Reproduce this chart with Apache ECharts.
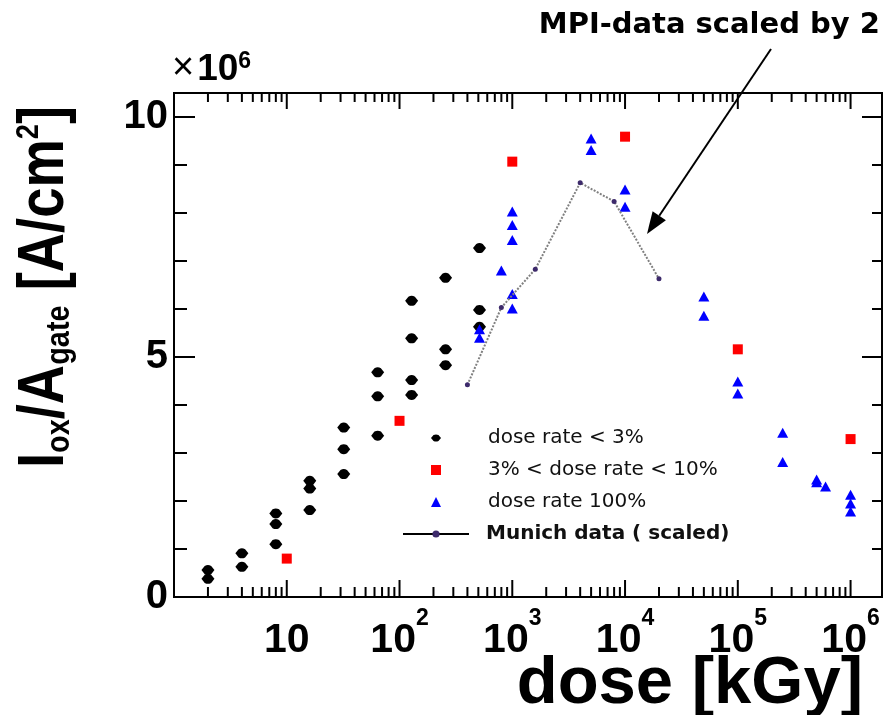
<!DOCTYPE html>
<html>
<head>
<meta charset="utf-8">
<script src="https://cdn.jsdelivr.net/npm/echarts@6/dist/echarts.min.js"></script>
<style>
  html, body { margin: 0; padding: 0; background: #fff; }
  #chart { width: 884px; height: 715px; }
</style>
</head>
<body>
<div id="chart"></div>
<script>
// Oxide current per gate area (in 1e-6 A/cm^2) versus accumulated dose (kGy)
const lowRateDose = [2, 2, 4, 4, 8, 8, 8, 16, 16, 16, 32, 32, 32, 64, 64, 64,
  128, 128, 128, 128, 256, 256, 256, 512, 512, 512];
const lowRateCurrent = [0.56, 0.38, 0.91, 0.63, 1.74, 1.52, 1.10, 2.42, 2.26, 1.81,
  3.53, 3.08, 2.56, 4.68, 4.18, 3.36, 6.17, 5.39, 4.52, 4.21, 6.65, 5.16, 4.83,
  7.27, 5.98, 5.63];

const midRateDose = [10, 100, 1000, 10000, 1e5, 1e6];
const midRateCurrent = [0.80, 3.67, 9.07, 9.59, 5.16, 3.29];

const fullRateDose = [512, 512, 800, 1000, 1000, 1000, 1000, 1000, 5000, 5000,
  10000, 10000, 50000, 50000, 1e5, 1e5, 2.5e5, 2.5e5, 5e5, 5e5, 6e5, 1e6, 1e6, 1e6];
const fullRateCurrent = [5.58, 5.40, 6.80, 8.03, 7.75, 7.44, 6.31, 6.01, 9.55, 9.31,
  8.49, 8.13, 6.26, 5.86, 4.49, 4.24, 3.42, 2.81, 2.45, 2.39, 2.30, 2.13, 1.95, 1.78];

const munichDose = [400, 800, 1600, 4000, 8000, 20000];
const munichCurrent = [4.42, 6.03, 6.83, 8.63, 8.24, 6.63];

const seriesNames = ['dose rate < 3%', '3% < dose rate < 10%', 'dose rate 100%', 'Munich data ( scaled)'];
const yTickLabels = [0, 5, 10];

const X_MIN = 1, X_MAX = 1.9e6, Y_MIN = 0, Y_MAX = 10.5;

const zip = (xs, ys) => xs.map((x, i) => [x, ys[i]]);

// frame ticks (log minor ticks on x, unit ticks on y), drawn on all four sides
const tickData = [];
for (let e = 0; e <= 6; e++) {
  for (let m = 1; m <= 9; m++) {
    const v = m * Math.pow(10, e);
    if (v <= X_MIN || v >= X_MAX) continue;
    tickData.push([v, Y_MIN, 0, m === 1 ? 1 : 0]);
  }
}
for (let v = 1; v <= 10; v++) tickData.push([X_MIN, v, 1, v % 5 === 0 ? 1 : 0]);

const FONT = '"Liberation Sans", Arial, sans-serif';
const LEGEND_FONT = '"DejaVu Sans", sans-serif';
const starPath = 'path://M0 5 L3 1.5 Q6 0 9 1.5 L12 5 L9 8.5 Q6 10 3 8.5 Z';

// annotation arrow
const arrowFrom = [771, 49], arrowTip = [647, 234];
const ax = arrowTip[0] - arrowFrom[0], ay = arrowTip[1] - arrowFrom[1];
const alen = Math.hypot(ax, ay), ux = ax / alen, uy = ay / alen;
const headLen = 22, headHalf = 8;
const baseC = [arrowTip[0] - headLen * ux, arrowTip[1] - headLen * uy];

const chart = echarts.init(document.getElementById('chart'), null, { renderer: 'canvas' });

const legendText = { fontFamily: LEGEND_FONT, fontSize: 20, color: '#111', lineHeight: 20 };

chart.setOption({
  animation: false,
  backgroundColor: '#fff',
  grid: {
    left: 174, right: 2, top: 93, bottom: 118,
    show: true, borderColor: '#000', borderWidth: 2,
    containLabel: false, outerBoundsMode: 'none'
  },
  xAxis: {
    type: 'log', logBase: 10, min: X_MIN, max: X_MAX,
    axisLine: { show: false }, axisTick: { show: false }, splitLine: { show: false },
    axisLabel: {
      margin: 10,
      showMinLabel: true, showMaxLabel: true, hideOverlap: false,
      formatter: function (v) {
        const l = Math.log10(v), e = Math.round(l);
        if (Math.abs(l - e) > 1e-6 || e < 1) return '';
        return e === 1 ? '{b|10}' : '{b|10}{s|' + e + '}';
      },
      rich: {
        b: { fontSize: 41, fontWeight: 'bold', fontFamily: FONT, color: '#000', lineHeight: 54, verticalAlign: 'bottom' },
        s: { fontSize: 23, fontWeight: 'bold', fontFamily: FONT, color: '#000', lineHeight: 22, verticalAlign: 'top' }
      }
    }
  },
  yAxis: {
    type: 'value', min: Y_MIN, max: Y_MAX, interval: 5,
    axisLine: { show: false }, axisTick: { show: false }, splitLine: { show: false },
    axisLabel: {
      margin: 6, hideOverlap: false,
      formatter: v => (yTickLabels.indexOf(v) >= 0 ? String(v) : ''),
      fontSize: 40, fontWeight: 'bold', fontFamily: FONT, color: '#000'
    }
  },
  legend: [
    {
      orient: 'vertical', left: 431, top: 428, padding: 0,
      itemWidth: 10, itemHeight: 10, itemGap: 12, selectedMode: false,
      textStyle: Object.assign({ padding: [0, 0, 0, 42] }, legendText),
      data: [
        { name: seriesNames[0], itemStyle: { opacity: 1 } },
        { name: seriesNames[1], itemStyle: { opacity: 1 } },
        { name: seriesNames[2], itemStyle: { opacity: 1 } }
      ]
    },
    {
      orient: 'vertical', left: 402, top: 524, padding: 0,
      itemWidth: 66, itemHeight: 9, selectedMode: false,
      textStyle: Object.assign({ padding: [0, 0, 0, 12], fontWeight: 'bold' }, legendText),
      data: [
        { name: seriesNames[3], lineStyle: { color: '#000', width: 2, type: 'solid', opacity: 1 } }
      ]
    }
  ],
  graphic: [
    {
      type: 'text', x: 45, y: 287, rotation: Math.PI / 2, scaleX: 0.85,
      style: {
        text: '{m|I}{s|ox}{m|/A}{s|gate}{m| [A/cm}{p|2}{m|]}',
        align: 'center', verticalAlign: 'middle', fill: '#000',
        rich: {
          m: { fontSize: 64, fontWeight: 'bold', fontFamily: FONT, fill: '#000', lineHeight: 64 },
          s: { fontSize: 34, fontWeight: 'bold', fontFamily: FONT, fill: '#000', lineHeight: 36, verticalAlign: 'bottom' },
          p: { fontSize: 32, fontWeight: 'bold', fontFamily: FONT, fill: '#000', lineHeight: 20, verticalAlign: 'top' }
        }
      }
    },
    {
      type: 'text', x: 863, y: 685,
      style: { text: 'dose [kGy]', font: 'bold 67px ' + FONT, fill: '#000', align: 'right', verticalAlign: 'middle' }
    },
    {
      type: 'text', x: 172, y: 69,
      style: {
        text: '{x|×}{b|10}{s|6}', align: 'left', verticalAlign: 'middle', fill: '#000',
        rich: {
          x: { fontSize: 38, fontFamily: FONT, fill: '#000', lineHeight: 38, verticalAlign: 'bottom', padding: [0, 3, 0, 0] },
          b: { fontSize: 37, fontWeight: 'bold', fontFamily: FONT, fill: '#000', lineHeight: 38, verticalAlign: 'bottom' },
          s: { fontSize: 23, fontWeight: 'bold', fontFamily: FONT, fill: '#000', lineHeight: 18, verticalAlign: 'top' }
        }
      }
    },
    {
      type: 'text', x: 880, y: 25,
      style: { text: 'MPI-data scaled by 2', font: 'bold 29px "DejaVu Sans", sans-serif', fill: '#000', align: 'right', verticalAlign: 'middle' }
    },
    {
      type: 'line',
      shape: { x1: arrowFrom[0], y1: arrowFrom[1], x2: baseC[0], y2: baseC[1] },
      style: { stroke: '#000', lineWidth: 2 }
    },
    {
      type: 'polygon',
      shape: {
        points: [
          arrowTip,
          [baseC[0] + headHalf * (-uy), baseC[1] + headHalf * ux],
          [baseC[0] - headHalf * (-uy), baseC[1] - headHalf * ux]
        ]
      },
      style: { fill: '#000' }
    }
  ],
  series: [
    {
      name: 'frame ticks', type: 'custom', silent: true, z: 10,
      data: tickData, encode: { x: 0, y: 1 },
      renderItem: function (params, api) {
        const cs = params.coordSys;
        const kind = api.value(2), major = api.value(3);
        const p = api.coord([api.value(0), api.value(1)]);
        const st = { stroke: '#000', lineWidth: 2 };
        if (kind === 0) {
          const lb = major ? 17 : 10, lt = major ? 16 : 9;
          const yb = cs.y + cs.height, yt = cs.y;
          return { type: 'group', children: [
            { type: 'line', shape: { x1: p[0], y1: yb, x2: p[0], y2: yb - lb }, style: st },
            { type: 'line', shape: { x1: p[0], y1: yt, x2: p[0], y2: yt + lt }, style: st }
          ] };
        }
        const ll = major ? 21 : 13, lr = major ? 20 : 10;
        const xl = cs.x, xr = cs.x + cs.width;
        return { type: 'group', children: [
          { type: 'line', shape: { x1: xl, y1: p[1], x2: xl + ll, y2: p[1] }, style: st },
          { type: 'line', shape: { x1: xr, y1: p[1], x2: xr - lr, y2: p[1] }, style: st }
        ] };
      }
    },
    {
      name: seriesNames[3], type: 'line', data: zip(munichDose, munichCurrent),
      symbol: 'circle', symbolSize: 5,
      itemStyle: { color: '#3d2a6b', opacity: 1 },
      lineStyle: { color: '#808080', width: 2, type: [2, 1.5], opacity: 1 }
    },
    {
      name: seriesNames[0], type: 'scatter', data: zip(lowRateDose, lowRateCurrent),
      symbol: starPath, symbolSize: [13, 10], itemStyle: { color: '#000', opacity: 1 }
    },
    {
      name: seriesNames[1], type: 'scatter', data: zip(midRateDose, midRateCurrent),
      symbol: 'rect', symbolSize: 10, itemStyle: { color: '#ff0000', opacity: 1 }
    },
    {
      name: seriesNames[2], type: 'scatter', data: zip(fullRateDose, fullRateCurrent),
      symbol: 'triangle', symbolSize: [11, 10], itemStyle: { color: '#0000ff', opacity: 1 }
    }
  ]
});
</script>
</body>
</html>
